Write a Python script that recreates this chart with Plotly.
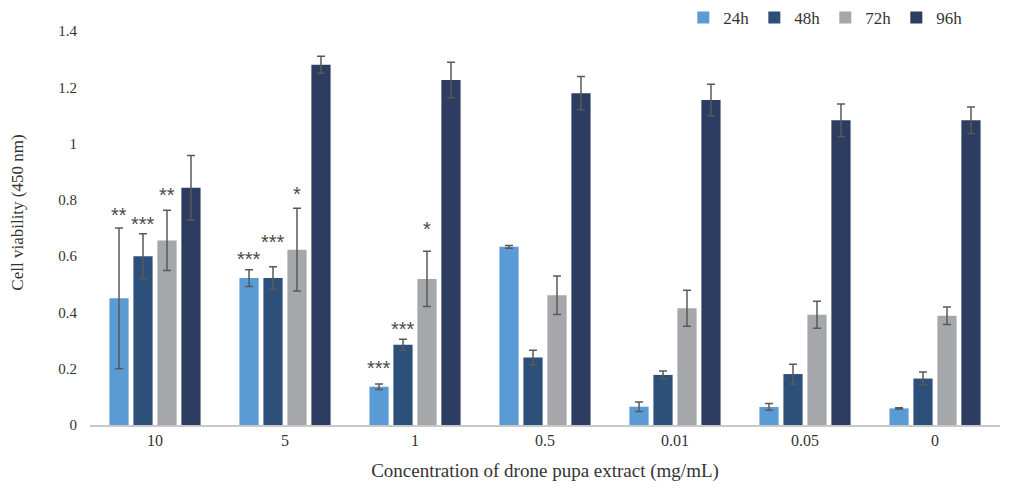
import plotly.graph_objects as go

categories = ["10", "5", "1", "0.5", "0.01", "0.05", "0"]
series_names = ["24h", "48h", "72h", "96h"]
colors = ["#5B9BD5", "#2C5079", "#A5A7AA", "#2D3C61"]

v24 = [0.45, 0.522, 0.136, 0.633, 0.065, 0.064, 0.059]
v48 = [0.60, 0.522, 0.285, 0.240, 0.178, 0.181, 0.165]
v72 = [0.656, 0.623, 0.519, 0.461, 0.415, 0.392, 0.388]
v96 = [0.843, 1.280, 1.226, 1.179, 1.155, 1.083, 1.083]

e24 = [0.25, 0.03, 0.01, 0.005, 0.017, 0.012, 0.002]
e48 = [0.08, 0.04, 0.02, 0.026, 0.014, 0.035, 0.023]
e72 = [0.107, 0.147, 0.098, 0.068, 0.064, 0.048, 0.031]
e96 = [0.115, 0.03, 0.063, 0.059, 0.056, 0.058, 0.047]

# significance marks: category index, series index, label, y position
stars_cat = [0, 0, 0, 1, 1, 1, 2, 2, 2]
stars_ser = [0, 1, 2, 0, 1, 2, 0, 1, 2]
stars_txt = ["**", "***", "**", "***", "***", "*", "***", "***", "*"]
stars_y = [0.76, 0.73, 0.83, 0.604, 0.665, 0.835, 0.217, 0.355, 0.711]

y_tickvals = [0, 0.2, 0.4, 0.6, 0.8, 1.0, 1.2, 1.4]
y_ticktext = ["0", "0.2", "0.4", "0.6", "0.8", "1", "1.2", "1.4"]

values = [v24, v48, v72, v96]
errors = [e24, e48, e72, e96]

fig = go.Figure()
for name, col, v, e in zip(series_names, colors, values, errors):
    fig.add_trace(go.Bar(
        x=categories, y=v, name=name, marker_color=col, marker_line_width=0,
        error_y=dict(type="data", array=e, visible=True, color="#595959",
                     thickness=1.5, width=4),
    ))

bargap = 0.262
slot = (1 - bargap) / 4
for c, s, t, y in zip(stars_cat, stars_ser, stars_txt, stars_y):
    fig.add_annotation(x=c + (s - 1.5) * slot, y=y, xref="x", yref="y",
                       text=t, showarrow=False, yanchor="middle", yshift=-4,
                       font=dict(family="Liberation Sans", size=20, color="#4a4a4a"))

top_val = 1.4 * 425 / 394
fig.update_layout(
    width=1009, height=493,
    paper_bgcolor="white", plot_bgcolor="white",
    barmode="group", bargap=bargap, bargroupgap=0.2,
    margin=dict(l=90, r=9, t=0, b=68),
    font=dict(family="Liberation Serif", color="#333333", size=15),
    legend=dict(orientation="h", x=0.652, y=1.0, xanchor="left", yanchor="top",
                font=dict(family="Liberation Serif", size=17, color="#333333"),
                itemwidth=30, traceorder="normal", bgcolor="rgba(0,0,0,0)"),
    xaxis=dict(showline=True, linecolor="#C8C8C8", linewidth=1.5, automargin=False,
               ticks="", tickfont=dict(size=16),
               title=dict(text="Concentration of drone pupa extract (mg/mL)",
                          font=dict(size=19), standoff=16)),
    yaxis=dict(range=[0, top_val], showgrid=False, zeroline=False, automargin=False,
               showline=False, ticks="", tickfont=dict(size=15),
               tickvals=y_tickvals, ticktext=y_ticktext,
               ticklabelstandoff=12,
               title=dict(text="Cell viability (450 nm)", font=dict(size=17), standoff=30)),
)

fig.write_html("out.html", config={"displayModeBar": False},
               post_script="document.body.style.margin='0px';")
